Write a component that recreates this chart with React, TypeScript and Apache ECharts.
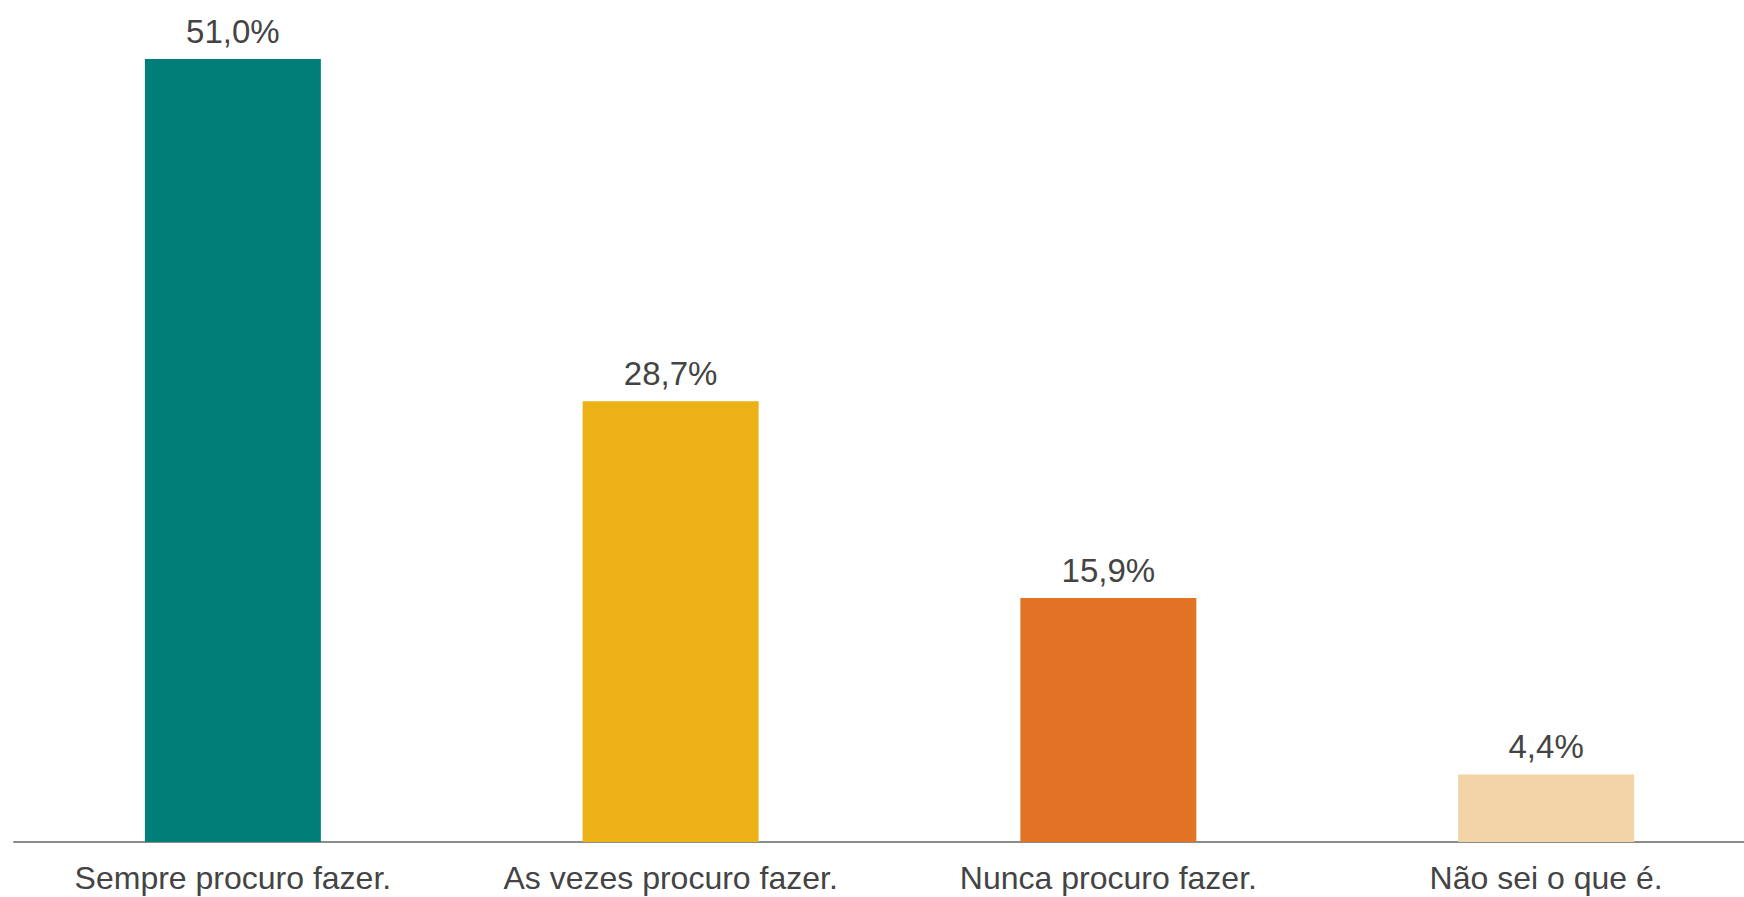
import React, { useEffect, useRef } from "react";
import * as echarts from "echarts";

const categories = [
  "Sempre procuro fazer.",
  "As vezes procuro fazer.",
  "Nunca procuro fazer.",
  "Não sei o que é.",
];
const values = [51.0, 28.7, 15.9, 4.4];
const colors = ["#017E77", "#ECB115", "#E27224", "#F3D4A7"];

export default function App() {
  const ref = useRef<HTMLDivElement>(null);
  useEffect(() => {
    document.body.style.margin = "0";
    const chart = echarts.init(ref.current!, null, { renderer: "svg" });
    chart.setOption({
      animation: false,
      backgroundColor: "#ffffff",
      grid: {
        left: 14,
        top: 59,
        width: 1751,
        bottom: 55,
        containLabel: false,
        outerBoundsMode: "none",
      },
      xAxis: {
        type: "category",
        data: categories,
        axisLine: { show: true, lineStyle: { color: "#8C8C8C", width: 2 } },
        axisTick: { show: false },
        axisLabel: {
          color: "#444444",
          fontSize: 32,
          fontFamily: "Liberation Sans, Arial, sans-serif",
          margin: 20,
          interval: 0,
        },
      },
      yAxis: {
        type: "value",
        min: 0,
        max: 51,
        show: false,
        splitLine: { show: false },
      },
      series: [
        {
          type: "bar",
          barWidth: "40.2%",
          data: values.map((v, i) => ({ value: v, itemStyle: { color: colors[i] } })),
          label: {
            show: true,
            position: "top",
            distance: 11,
            color: "#444444",
            fontSize: 33,
            fontFamily: "Liberation Sans, Arial, sans-serif",
            formatter: (p: any) => p.value.toFixed(1).replace(".", ",") + "%",
          },
        },
      ],
    });
    return () => chart.dispose();
  }, []);
  return (
    <div
      ref={ref}
      style={{ position: "absolute", left: 0, top: 0, width: 1744, height: 897 }}
    />
  );
}
